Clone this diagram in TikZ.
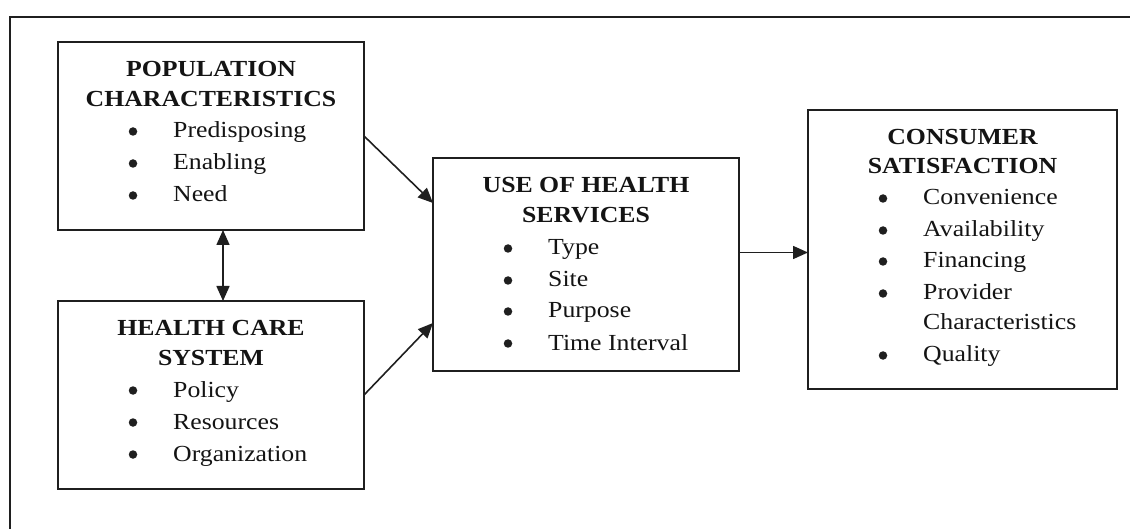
\documentclass[tikz,border=0pt]{standalone}
\usepackage{fontspec}
\setmainfont{Liberation Serif}[FakeStretch=1.12]
\usetikzlibrary{arrows.meta,calc}

% one bulleted entry: name, left edge of its box, baseline, text
\newcommand\listentry[4]{%
  \node[dot] (#1-dot) at (#2+75,#3-6.5) {};
  \node[entry] (#1) at (#2+115,#3) {#4};}

\begin{document}
\begin{tikzpicture}[x=1pt,y=-1pt,
  every node/.style={text=black!92},
  box/.style={draw=black!88, line width=1.8pt, inner sep=0pt, outer sep=0pt},
  head/.style={anchor=base, inner sep=0pt, font=\fontsize{23}{27}\selectfont\bfseries},
  entry/.style={anchor=base west, inner sep=0pt, font=\fontsize{23}{27}\selectfont},
  dot/.style={circle, fill=black!88, inner sep=0pt, minimum size=8.5pt},
  tip/.style={-{Triangle[length=15pt,width=13pt]}},
  link/.style={draw=black!88, line width=1.6pt, tip},
  frame/.style={draw=black!88, line width=2.2pt}]

\useasboundingbox (0,0) rectangle (1130,529);
\fill[white] (0,0) rectangle (1130,529);

% surrounding frame
\draw[frame] (10,529) |- (1130,17);

% boxes
\node[box, minimum width=306pt, minimum height=188pt] (pop) at (211,136) {};
\node[box, minimum width=306pt, minimum height=188pt] (hcs) at (211,395) {};
\node[box, minimum width=306pt, minimum height=213pt] (use) at (586,264.5) {};
\node[box, minimum width=309pt, minimum height=279pt] (cons) at (962.5,249.5) {};

% population characteristics
\node[head] (popT1) at (211,77) {POPULATION};
\node[head] (popT2) at (211,107) {CHARACTERISTICS};
\listentry{pop1}{58}{138}{Predisposing}
\listentry{pop2}{58}{170}{Enabling}
\listentry{pop3}{58}{202}{Need}

% health care system
\node[head] (hcsT1) at (211,336) {HEALTH CARE};
\node[head] (hcsT2) at (211,366) {SYSTEM};
\listentry{hcs1}{58}{397}{Policy}
\listentry{hcs2}{58}{429}{Resources}
\listentry{hcs3}{58}{461}{Organization}

% use of health services
\node[head] (useT1) at (586,193) {USE OF HEALTH};
\node[head] (useT2) at (586,223) {SERVICES};
\listentry{use1}{433}{255}{Type}
\listentry{use2}{433}{287}{Site}
\listentry{use3}{433}{318}{Purpose}
\listentry{use4}{433}{350}{Time Interval}

% consumer satisfaction
\node[head] (consT1) at (962.5,145) {CONSUMER};
\node[head] (consT2) at (962.5,174) {SATISFACTION};
\listentry{cons1}{808}{205}{Convenience}
\listentry{cons2}{808}{237}{Availability}
\listentry{cons3}{808}{268}{Financing}
\listentry{cons4}{808}{300}{Provider}
\node[entry] (cons4b) at (923,330) {Characteristics};
\listentry{cons5}{808}{362}{Quality}

% connectors
\draw[link] (pop.east) -- ([yshift=61.5pt]use.west);
\draw[link] (hcs.east) -- ([yshift=-58.5pt]use.west);
\draw[link] ([yshift=12pt]use.east) -- ([yshift=12pt]use.east -| cons.west);
\draw[link, {Triangle[length=15pt,width=13pt]}-{Triangle[length=15pt,width=13pt]}]
  ([xshift=12pt]pop.south) -- ([xshift=12pt]hcs.north);
\end{tikzpicture}
\end{document}
